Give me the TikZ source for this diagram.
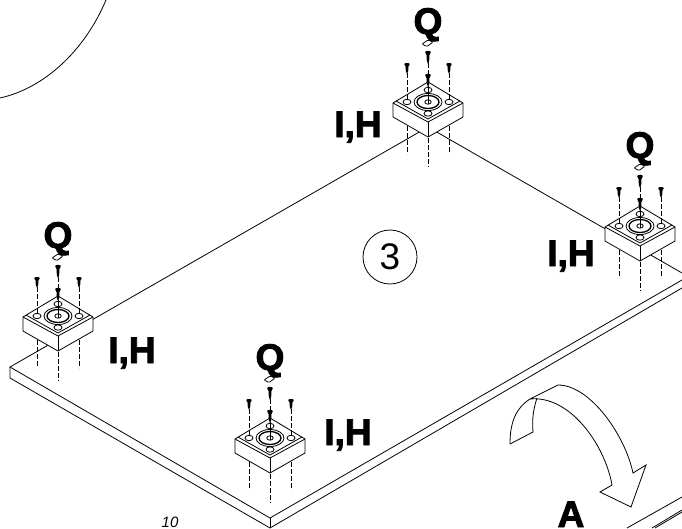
\documentclass[tikz,border=0pt]{standalone}
\usepackage{fontspec}
\setmainfont{Liberation Sans}
\newfontfamily\heavyfont[FakeBold=2.6]{Liberation Sans Bold}
\tikzset{
  partline/.style={draw=black,line join=miter,line cap=butt,line width=0.8pt},
  centerline/.style={draw=black,line width=0.8pt,dash pattern=on 5pt off 2pt},
  letter/.style={anchor=base,inner sep=0pt,outer sep=0pt,font=\fontsize{37}{37}\selectfont\heavyfont},
  pics/screw/.style={code={
    \path[fill=black,yscale=-#1] (-2.8,0) .. controls (-2.4,-1.6) and (2.4,-1.6) .. (2.8,0)
      -- (2.0,2.2) -- (1.4,3) -- (1.2,9) -- (0,12) -- (-1.2,9) -- (-1.4,3) -- (-2.0,2.2) -- cycle;
  }},
  pics/mountfoot/.style={code={
    \begin{scope}[yscale=-1]
    % block
    \path[partline,fill=white] (-35,1) -- (0,-20) -- (35,1) -- (35,15) -- (0,35) -- (-35,15) -- cycle;
    \path[partline] (-35,1) -- (0,20) -- (35,1);
    \path[partline] (-32,-1) -- (0,17) -- (32,-1);
    \path[partline] (0,20) -- (0,35);
    % holes and seat
    \path[partline] (-21,0) ellipse [x radius=4,y radius=2.7];
    \path[partline] (21,0) ellipse [x radius=4,y radius=2.7];
    \path[partline] (0,-12) ellipse [x radius=4,y radius=2.7];
    \path[partline] (0,11.5) ellipse [x radius=4,y radius=2.7];
    \path[partline] (0,0) ellipse [x radius=14,y radius=8.5];
    \path[draw=black,line width=1.3pt] (0,0) ellipse [x radius=11,y radius=6.5];
    \path[partline] (0,0) ellipse [x radius=3.2,y radius=2.2];
    % washer
    \path[partline,rounded corners=1pt] (-6,-58) -- (0,-62) -- (5,-60) -- (-1,-55.5) -- cycle;
    % center lines
    \path[centerline] (-21,-29) -- (-21,-3);
    \path[centerline] (21,-29) -- (21,-3);
    \path[centerline] (0,-39) -- (0,-28);
    \path[partline] (0,-16) -- (0,2);
    \path[centerline] (-21,24) -- (-21,52);
    \path[centerline] (21,24) -- (21,52);
    \path[centerline] (0,36) -- (0,65);
    \node[letter] (q) at (0,-68) {Q};
    \end{scope}
    % screws
    \pic at (-21,38) {screw=0.8};
    \pic at (21,38) {screw=0.8};
    \pic at (0,50) {screw=1};
    \pic at (0,27) {screw=1};
  }}
}
\begin{document}
\begin{tikzpicture}[y=1pt,x=1pt,yscale=-1]
\useasboundingbox (0,0) rectangle (682,528);

% circle of the detail
\path[partline] (0,98) .. controls (45,88) and (85,50) .. (106,0);

% plate
\path[partline] (682,273) -- (428,127) -- (10,367) -- (270,518) -- (682,280);
\path[partline] (10,367) -- (10,378) -- (270,528) -- (682,288);
\path[partline] (270,518) -- (270,528);

% feet
\foreach \foot/\cx/\cy/\lx/\ly in {topfoot/428/102/358/137,leftfoot/58/316/132/363,
    bottomfoot/270/438/348/445,rightfoot/640/226/571/266}{
  \pic (\foot) at (\cx,\cy) {mountfoot};
  \node[letter] (\foot-label) at (\lx,\ly) {I,H};
}

% position number
\node[draw=black,line width=0.8pt,circle,minimum size=54pt,inner sep=0pt,font=\fontsize{37}{37}\selectfont] (number) at (390,257) {3};

% turning arrow
\path[partline,fill=white] (510,444) .. controls (510,422) and (516,408) .. (530,399)
  -- (558,385) .. controls (590,385) and (625,435) .. (633,473)
  -- (646,465) -- (631,507) -- (600,492) -- (612,485)
  .. controls (605,445) and (570,395) .. (530,399);
\path[partline] (537,398) .. controls (533,410) and (532,420) .. (533,432) -- (510,444);

% lower sheet
\node[letter] (viewa) at (571,527) {A};
\path[partline] (627,528) -- (682,497);
\path[partline] (652,528) -- (682,510);
\path[partline] (655,528) -- (682,512);

\node[anchor=base,inner sep=0pt,font=\fontsize{15}{15}\selectfont\itshape] (number10) at (170,527) {10};
\end{tikzpicture}
\end{document}
